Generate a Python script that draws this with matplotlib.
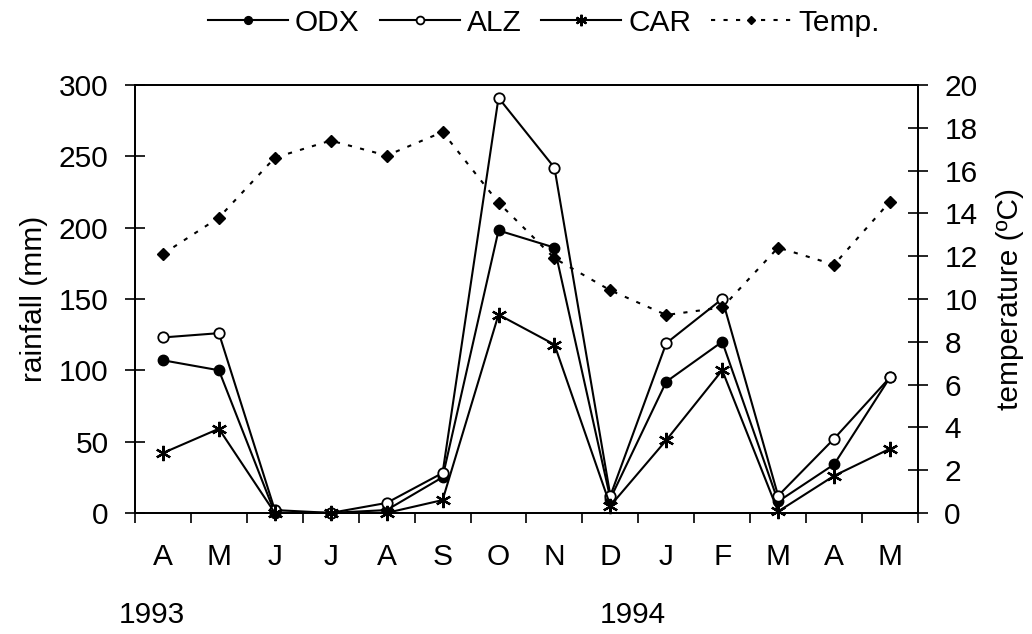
import matplotlib
matplotlib.use("Agg")
import matplotlib.pyplot as plt
import matplotlib.transforms as mtransforms

plt.rcParams['font.family'] = ['Liberation Sans', 'DejaVu Sans']

months = ['A', 'M', 'J', 'J', 'A', 'S', 'O', 'N', 'D', 'J', 'F', 'M', 'A', 'M']
years = {'1993': -0.2, '1994': 8.4}

# rainfall (mm)
odx = [107, 100, 0, 0, 2, 25, 198, 186, 10, 92, 120, 8, 34, 95]
alz = [123, 126, 2, 0, 7, 28, 291, 242, 12, 119, 150, 12, 52, 95]
car = [42, 59, 0, 0, 0, 9, 139, 118, 5, 51, 100, 1, 26, 45]
# temperature (C)
temp = [12.1, 13.8, 16.6, 17.4, 16.7, 17.8, 14.5, 11.9, 10.4, 9.25, 9.6, 12.4, 11.6, 14.55]

x = list(range(len(months)))
fs = 21.5

fig = plt.figure(figsize=(10.32, 6.34), dpi=100)
ax = fig.add_axes([0.1308, 0.191, 0.7587, 0.675])
ax2 = ax.twinx()

lw = 1.5
l1, = ax.plot(x, odx, '-', color='black', lw=lw, marker='o', ms=7.5,
              mfc='black', mec='black', clip_on=False, zorder=3)
l2, = ax.plot(x, alz, '-', color='black', lw=lw, marker='o', ms=7.5,
              mfc='white', mec='black', mew=1.3, clip_on=False, zorder=3)
l3, = ax.plot(x, car, '-', color='black', lw=lw, marker=(6, 2, 0), ms=11,
              mew=1.6, clip_on=False, zorder=3)
l4, = ax2.plot(x, temp, color='black', lw=1.5, ls=(0, (2, 4)), marker='D',
               ms=6, mfc='black', mec='black', clip_on=False)

ax.set_xlim(-0.5, len(months) - 0.5)
ax.set_ylim(0, 300)
ax2.set_ylim(0, 20)
ax.set_yticks(range(0, 301, 50))
ax2.set_yticks(range(0, 21, 2))

ax.set_xticks([i - 0.5 for i in range(len(months) + 1)])
ax.set_xticklabels([])
ax.set_xticks(x, minor=True)
ax.set_xticklabels(months, minor=True)
ax.tick_params(axis='x', which='major', direction='out', length=7, width=1.2)
ax.tick_params(axis='x', which='minor', length=0, pad=22, labelsize=fs)
ax.tick_params(axis='y', direction='inout', length=14, width=1.2, labelsize=fs, pad=12)
ax2.tick_params(axis='y', direction='inout', length=14, width=1.2, labelsize=fs, pad=12)

for a in (ax, ax2):
    for s in a.spines.values():
        s.set_linewidth(1.3)

ax.set_ylabel('rainfall (mm)', fontsize=fs, labelpad=8)
ax2.set_ylabel('temperature (ºC)', fontsize=fs, labelpad=13)

trans = mtransforms.blended_transform_factory(ax.transData, ax.transAxes)
for label, pos in years.items():
    ax.text(pos, -0.238, label, transform=trans, ha='center', va='center', fontsize=fs)

fig.legend([l1, l2, l3, l4], ['ODX', 'ALZ', 'CAR', 'Temp.'], loc='center',
           bbox_to_anchor=(0.527, 0.964), ncol=4, frameon=False, fontsize=fs,
           handlelength=2.68, handletextpad=0.23, columnspacing=0.67, markerscale=0.75)

fig.savefig('out.png', dpi=100)
